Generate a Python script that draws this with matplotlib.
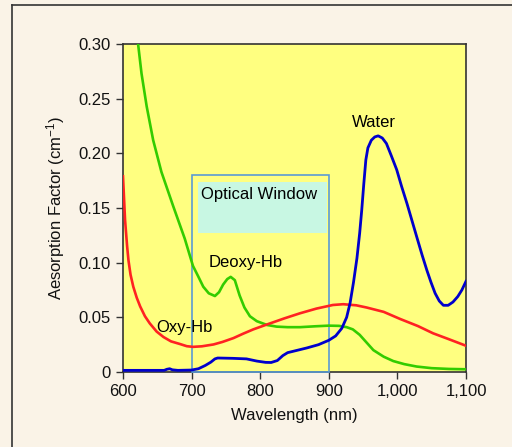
import numpy as np
import matplotlib
matplotlib.use("Agg")
import matplotlib.pyplot as plt
from matplotlib.patches import Rectangle
from matplotlib.lines import Line2D
from matplotlib.ticker import FuncFormatter

# Deoxy-Hb (green)
deoxy_nm = [622, 627, 634.5, 644, 656, 673, 690, 702, 710, 717, 725, 734, 740,
            746, 752, 757, 763, 770, 777, 785, 795, 810, 824, 840, 858, 880,
            900, 915, 926, 935, 945, 955, 965, 980, 994, 1010, 1028, 1050,
            1075, 1100]
deoxy_abs = [0.300, 0.273, 0.243, 0.212, 0.183, 0.152, 0.122, 0.097, 0.087,
             0.078, 0.072, 0.0695, 0.073, 0.080, 0.085, 0.087, 0.084, 0.070,
             0.059, 0.051, 0.0465, 0.043, 0.0415, 0.041, 0.041, 0.0418,
             0.0424, 0.0422, 0.041, 0.039, 0.034, 0.027, 0.020, 0.014, 0.010,
             0.0072, 0.005, 0.0035, 0.0028, 0.0025]

# Oxy-Hb (red)
oxy_nm = [600, 603, 606, 608, 611, 615, 620, 625, 632, 639, 649, 659, 670,
          683, 693, 702, 715, 732, 745, 761, 775, 790, 810, 835, 858, 882,
          906, 921, 940, 955, 980, 1004, 1030, 1052, 1075, 1100]
oxy_abs = [0.179, 0.139, 0.115, 0.102, 0.089, 0.078, 0.068, 0.060, 0.051,
           0.0445, 0.037, 0.032, 0.028, 0.0256, 0.0236, 0.023, 0.0235, 0.0252,
           0.0275, 0.031, 0.035, 0.039, 0.0435, 0.049, 0.0537, 0.058, 0.0613,
           0.062, 0.061, 0.059, 0.055, 0.0485, 0.042, 0.0354, 0.030, 0.024]

# Water (blue)
water_nm = [600, 660, 664, 668, 672, 680, 700, 710, 720, 728, 734, 738, 760,
            780, 795, 808, 816, 825, 833, 840, 855, 868, 885, 900, 910, 919,
            926, 931, 936, 941, 945, 948, 951, 954, 957, 962, 967, 972, 978,
            984, 991, 999, 1006, 1014, 1021, 1028, 1036, 1043, 1049, 1055,
            1061, 1067, 1074, 1081, 1088, 1094, 1100]
water_abs = [0.0015, 0.0015, 0.0025, 0.003, 0.002, 0.0015, 0.0018, 0.003,
             0.006, 0.009, 0.012, 0.0128, 0.0125, 0.012, 0.010, 0.0088,
             0.0087, 0.0105, 0.015, 0.0177, 0.020, 0.022, 0.025, 0.029, 0.033,
             0.040, 0.050, 0.063, 0.082, 0.104, 0.127, 0.148, 0.172, 0.194,
             0.205, 0.212, 0.215, 0.216, 0.214, 0.209, 0.198, 0.185, 0.170,
             0.154, 0.139, 0.124, 0.107, 0.093, 0.082, 0.072, 0.065, 0.061,
             0.061, 0.064, 0.069, 0.075, 0.083]

x_ticks = [600, 700, 800, 900, 1000, 1100]
y_ticks = [0, 0.05, 0.10, 0.15, 0.20, 0.25, 0.30]

window_nm = (700, 900)
window_top = 0.18

plt.rcParams['font.family'] = ['Liberation Sans', 'DejaVu Sans']
plt.rcParams['mathtext.fontset'] = 'custom'
plt.rcParams['mathtext.rm'] = 'Liberation Sans'
plt.rcParams['mathtext.it'] = 'Liberation Sans'

fig = plt.figure(figsize=(5.12, 4.47), dpi=100)
fig.patch.set_facecolor('#faf3e7')

# outer frame (only the top and left edges show)
fig.add_artist(Line2D([11.5 / 512, 11.5 / 512], [0, 1 - 5 / 447],
                      color='#333333', lw=1.2, transform=fig.transFigure))
fig.add_artist(Line2D([11.5 / 512, 1], [1 - 5 / 447, 1 - 5 / 447],
                      color='#333333', lw=1.2, transform=fig.transFigure))

ax = fig.add_axes([123 / 512, 75 / 447, 343 / 512, 328 / 447])
ax.set_facecolor('#ffff80')

# optical window
ax.add_patch(Rectangle((709, 0.127), 188, 0.047, facecolor='#c8f7e3',
                       edgecolor='none', zorder=1.5))
ax.add_patch(Rectangle((window_nm[0], 0), window_nm[1] - window_nm[0],
                       window_top, facecolor='none', edgecolor='#5b9bd5',
                       lw=1.2, zorder=2.6, clip_on=False))

ax.plot(deoxy_nm, deoxy_abs, color='#33cc00', lw=1.9, zorder=3)
ax.plot(oxy_nm, oxy_abs, color='#ff2222', lw=1.9, zorder=3)
ax.plot(water_nm, water_abs, color='#0000cc', lw=2.0, zorder=3)

ax.text(713, 0.162, 'Optical Window', fontsize=12, va='center', zorder=4)
ax.text(725, 0.1006, 'Deoxy-Hb', fontsize=12, va='center', zorder=4)
ax.text(648, 0.041, 'Oxy-Hb', fontsize=12, va='center', zorder=4)
ax.text(934, 0.228, 'Water', fontsize=12, va='center', zorder=4)

ax.set_xlim(600, 1100)
ax.set_ylim(0, 0.30)
ax.set_xticks(x_ticks)
ax.set_yticks(y_ticks)
ax.xaxis.set_major_formatter(FuncFormatter(lambda v, p: '{:,}'.format(int(v))))
ax.yaxis.set_major_formatter(FuncFormatter(lambda v, p: '0' if v == 0 else '%.2f' % v))
ax.tick_params(direction='out', length=5, width=1, color='#333333',
               labelsize=12, labelcolor='#111111', pad=4)

for side in ['left', 'right', 'top', 'bottom']:
    ax.spines[side].set_color('#333333')
    ax.spines[side].set_linewidth(1.2)

ax.set_xlabel('Wavelength (nm)', fontsize=12, color='#111111', labelpad=6)
ax.set_ylabel(r'Aesorption Factor (cm$^{-1}$)', fontsize=12, color='#111111',
              labelpad=8)

plt.savefig('out.png', dpi=100, facecolor=fig.get_facecolor())
